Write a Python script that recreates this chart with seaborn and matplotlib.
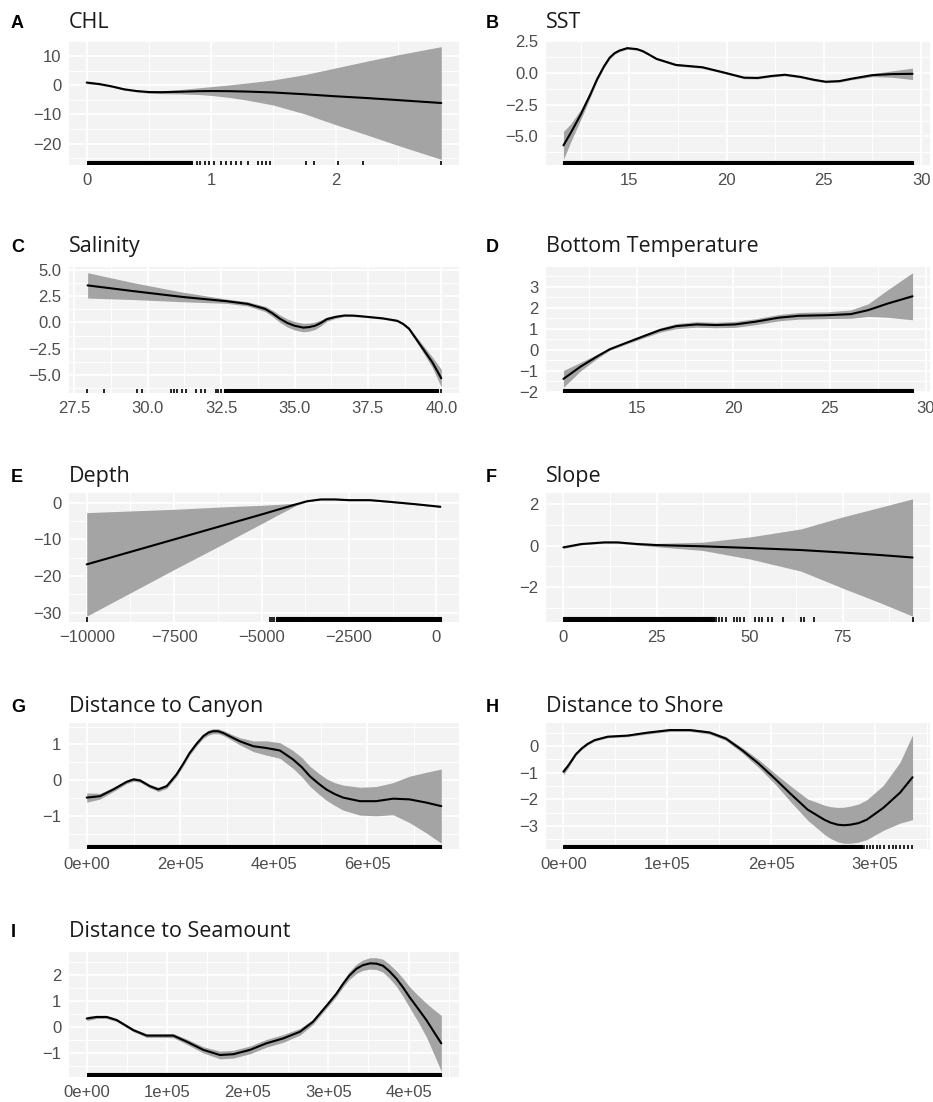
import numpy as np
import matplotlib
matplotlib.use("Agg")
import matplotlib.pyplot as plt
import seaborn as sns

sns.set_theme(style="white")
plt.rcParams["font.family"] = ["Liberation Sans", "DejaVu Sans"]
plt.rcParams["axes.unicode_minus"] = True

# ---------------- smooth terms: fit and confidence half-width ----------------
chl_x = [0, 0.1, 0.2, 0.3, 0.4, 0.5, 0.6, 0.75, 0.9, 1.0, 1.15, 1.3, 1.5, 1.75, 2.0, 2.25, 2.5, 2.85]
chl_fit = [0.9, 0.4, -0.4, -1.4, -2.0, -2.35, -2.4, -2.25, -2.05, -2.0, -2.05, -2.2, -2.5, -3.1, -3.8, -4.4, -5.1, -6.1]
chl_ci = [0.4, 0.3, 0.3, 0.3, 0.3, 0.4, 0.5, 0.75, 1.15, 1.5, 2.15, 3.0, 4.3, 6.7, 9.7, 12.6, 15.5, 19.3]
chl_rug_span = [(0.0, 0.85)]
chl_rug = [0.89, 0.91, 0.95, 0.98, 1.02, 1.08, 1.12, 1.16, 1.20, 1.24, 1.30, 1.38, 1.41, 1.44, 1.47,
           1.76, 1.83, 2.02, 2.22, 2.85]

sst_x = [11.62, 12.0, 12.5, 13.0, 13.35, 13.7, 14.0, 14.25, 14.5, 14.9, 15.4, 15.7, 16.0, 16.4,
         17.4, 18.75, 19.8, 20.9, 21.6, 22.3, 23.0, 23.8, 24.5, 25.1, 25.8, 26.4, 27.5, 28.5, 29.56]
sst_fit = [-5.7, -4.7, -3.3, -1.7, -0.5, 0.5, 1.2, 1.55, 1.75, 1.94, 1.86, 1.7, 1.45, 1.1,
           0.62, 0.44, 0.05, -0.38, -0.4, -0.25, -0.15, -0.32, -0.55, -0.7, -0.65, -0.47, -0.18, -0.1, -0.08]
sst_ci = [1.1, 0.7, 0.4, 0.22, 0.15, 0.12, 0.1, 0.09, 0.08, 0.08, 0.08, 0.08, 0.08, 0.08,
          0.08, 0.08, 0.08, 0.08, 0.08, 0.08, 0.08, 0.08, 0.08, 0.08, 0.08, 0.08, 0.12, 0.25, 0.45]
sst_rug_span = [(11.62, 29.56)]
sst_rug = []

sal_x = [27.95, 29.5, 31.2, 32.7, 33.4, 34.0, 34.25, 34.5, 34.75, 35.0, 35.3, 35.5, 35.7, 35.9,
         36.1, 36.4, 36.7, 37.0, 37.3, 38.0, 38.5, 38.7, 38.9, 39.3, 39.7, 40.0]
sal_fit = [3.5, 2.96, 2.4, 2.0, 1.75, 1.27, 0.85, 0.35, -0.05, -0.32, -0.5, -0.45, -0.32, -0.05,
           0.3, 0.52, 0.65, 0.64, 0.57, 0.38, 0.15, -0.15, -0.6, -2.2, -3.8, -5.3]
sal_ci = [1.2, 0.8, 0.45, 0.2, 0.2, 0.25, 0.3, 0.35, 0.38, 0.4, 0.4, 0.38, 0.35, 0.28,
          0.2, 0.14, 0.1, 0.09, 0.08, 0.08, 0.1, 0.12, 0.15, 0.3, 0.5, 0.85]
sal_rug_span = [(32.6, 39.9)]
sal_rug = [27.92, 28.52, 29.63, 29.8, 30.78, 30.9, 31.0, 31.18, 31.3, 31.63, 31.8, 31.94, 32.32,
           32.4, 32.49, 40.0]

bt_x = [11.2, 12.1, 12.95, 13.6, 14.5, 15.3, 16.2, 17.05, 18.1, 19.1, 20.1, 21.15, 22.35, 23.4,
        24.9, 26.1, 27.0, 28.0, 29.3]
bt_fit = [-1.38, -0.79, -0.31, 0.03, 0.35, 0.63, 0.94, 1.13, 1.21, 1.18, 1.21, 1.34, 1.53, 1.62,
          1.65, 1.70, 1.89, 2.2, 2.55]
bt_ci = [0.4, 0.2, 0.1, 0.05, 0.06, 0.08, 0.1, 0.12, 0.13, 0.13, 0.14, 0.14, 0.15, 0.16,
         0.16, 0.2, 0.3, 0.65, 1.12]
bt_rug_span = [(11.2, 29.3)]
bt_rug = []

dep_x = [-10000, -7500, -6250, -5000, -4500, -4000, -3700, -3300, -2900, -2500, -1900, -1400, -600, 114]
dep_fit = [-16.8, -10.0, -6.6, -3.2, -1.8, -0.4, 0.4, 0.9, 0.9, 0.7, 0.7, 0.3, -0.4, -1.1]
dep_ci = [14.1, 8.2, 5.4, 2.5, 1.35, 0.3, 0.15, 0.15, 0.15, 0.15, 0.15, 0.15, 0.15, 0.2]
dep_rug_span = [(-4600, 140)]
dep_rug = [-10000, -4750, -4700, -4650]

slp_x = [0, 4.8, 11, 14.5, 19.8, 25, 37.4, 50, 63.8, 75, 85, 93.75]
slp_fit = [-0.08, 0.08, 0.16, 0.16, 0.08, 0.03, -0.03, -0.11, -0.21, -0.33, -0.45, -0.57]
slp_ci = [0.05, 0.04, 0.04, 0.04, 0.05, 0.08, 0.2, 0.53, 1.02, 1.72, 2.3, 2.83]
slp_rug_span = [(0.0, 40.5)]
slp_rug = [40.9, 41.8, 42.7, 43.6, 45.8, 46.7, 47.5, 48.4, 51.5, 52.4, 53.3, 55.0, 55.9, 59.0,
           63.8, 64.7, 67.3, 93.75]

can_x = [0, 28500, 57000, 85000, 100000, 114000, 135000, 153000, 171000, 192000,
         206000, 220000, 235000, 249000, 260000, 270000, 281000, 292000, 310000, 327000,
         356000, 384000, 413000, 441000, 460000, 477000, 495000, 512000, 530000, 548000,
         584000, 619000, 655000, 690000, 726000, 758000]
can_fit = [-0.49, -0.45, -0.26, -0.05, 0.02, -0.01, -0.17, -0.26, -0.17, 0.16,
           0.45, 0.76, 1.02, 1.23, 1.33, 1.37, 1.37, 1.32, 1.2, 1.09,
           0.95, 0.9, 0.83, 0.58, 0.36, 0.11, -0.09, -0.26, -0.39, -0.49,
           -0.59, -0.59, -0.52, -0.54, -0.63, -0.73]
can_ci = [0.13, 0.08, 0.06, 0.05, 0.05, 0.05, 0.05, 0.06, 0.06, 0.06,
          0.06, 0.06, 0.06, 0.06, 0.07, 0.07, 0.07, 0.07, 0.08, 0.1,
          0.15, 0.2, 0.22, 0.25, 0.27, 0.28, 0.29, 0.3, 0.32, 0.35,
          0.39, 0.41, 0.45, 0.65, 0.85, 1.04]
can_rug_span = [(0, 758000)]
can_rug = []

sho_x = [0, 3900, 7900, 12000, 17400, 23000, 30000, 42600, 61600, 80500,
         102600, 121600, 140500, 156300, 172000, 188000, 204000, 219000, 235000, 251000,
         257000, 264000, 270000, 276000, 284000, 292000, 308000, 324000, 336000]
sho_fit = [-0.96, -0.77, -0.54, -0.3, -0.09, 0.08, 0.23, 0.36, 0.40, 0.51,
           0.61, 0.61, 0.52, 0.29, -0.15, -0.66, -1.24, -1.81, -2.39, -2.77,
           -2.88, -2.96, -2.98, -2.96, -2.9, -2.77, -2.32, -1.75, -1.17]
sho_ci = [0.12, 0.09, 0.06, 0.05, 0.04, 0.04, 0.04, 0.04, 0.04, 0.05,
          0.05, 0.05, 0.06, 0.07, 0.1, 0.15, 0.2, 0.3, 0.4, 0.55,
          0.6, 0.65, 0.68, 0.7, 0.72, 0.75, 0.85, 1.15, 1.6]
sho_rug_span = [(0, 287000)]
sho_rug = [289000, 292000, 295000, 298000, 302000, 305000, 309000, 313000, 317000, 320000,
           324000, 328000, 332000, 335000]

sea_x = [0, 12400, 24800, 37200, 58000, 74500, 91000, 107500, 124000, 144800,
         165500, 182000, 203000, 223000, 244000, 265000, 281000, 300000, 310000, 318500,
         326000, 335000, 343000, 352000, 360000, 368000, 376000, 385000, 393000, 401000,
         411000, 422000, 431000, 440500]
sea_fit = [0.32, 0.38, 0.38, 0.26, -0.13, -0.34, -0.34, -0.34, -0.57, -0.89,
           -1.09, -1.06, -0.89, -0.64, -0.45, -0.19, 0.19, 0.89, 1.27, 1.66,
           1.97, 2.24, 2.38, 2.45, 2.44, 2.36, 2.15, 1.85, 1.52, 1.15,
           0.73, 0.26, -0.18, -0.64]
sea_ci = [0.08, 0.06, 0.06, 0.06, 0.06, 0.07, 0.07, 0.08, 0.1, 0.12,
          0.15, 0.15, 0.15, 0.15, 0.15, 0.13, 0.1, 0.1, 0.11, 0.12,
          0.15, 0.18, 0.2, 0.22, 0.23, 0.25, 0.27, 0.3, 0.35, 0.4,
          0.5, 0.65, 0.85, 1.08]
sea_rug_span = [(0, 440500)]
sea_rug = []

# ---------------- axis breaks and labels ----------------
chl_xt, chl_xl = [0, 1, 2], ["0", "1", "2"]
chl_yt, chl_yl = [-20, -10, 0, 10], ["\u221220", "\u221210", "0", "10"]
sst_xt, sst_xl = [15, 20, 25, 30], ["15", "20", "25", "30"]
sst_yt, sst_yl = [-5, -2.5, 0, 2.5], ["\u22125.0", "\u22122.5", "0.0", "2.5"]
sal_xt, sal_xl = [27.5, 30, 32.5, 35, 37.5, 40], ["27.5", "30.0", "32.5", "35.0", "37.5", "40.0"]
sal_yt, sal_yl = [-5, -2.5, 0, 2.5, 5], ["\u22125.0", "\u22122.5", "0.0", "2.5", "5.0"]
bt_xt, bt_xl = [15, 20, 25, 30], ["15", "20", "25", "30"]
bt_yt, bt_yl = [-2, -1, 0, 1, 2, 3], ["\u22122", "\u22121", "0", "1", "2", "3"]
dep_xt, dep_xl = [-10000, -7500, -5000, -2500, 0], ["\u221210000", "\u22127500", "\u22125000", "\u22122500", "0"]
dep_yt, dep_yl = [-30, -20, -10, 0], ["\u221230", "\u221220", "\u221210", "0"]
slp_xt, slp_xl = [0, 25, 50, 75], ["0", "25", "50", "75"]
slp_yt, slp_yl = [-2, 0, 2], ["\u22122", "0", "2"]
can_xt, can_xl = [0, 200000, 400000, 600000], ["0e+00", "2e+05", "4e+05", "6e+05"]
can_yt, can_yl = [-1, 0, 1], ["\u22121", "0", "1"]
sho_xt, sho_xl = [0, 100000, 200000, 300000], ["0e+00", "1e+05", "2e+05", "3e+05"]
sho_yt, sho_yl = [-3, -2, -1, 0], ["\u22123", "\u22122", "\u22121", "0"]
sea_xt, sea_xl = [0, 100000, 200000, 300000, 400000], ["0e+00", "1e+05", "2e+05", "3e+05", "4e+05"]
sea_yt, sea_yl = [-1, 0, 1, 2], ["\u22121", "0", "1", "2"]

panel_letters = ["A", "B", "C", "D", "E", "F", "G", "H", "I"]
panel_titles = ["CHL", "SST", "Salinity", "Bottom Temperature", "Depth", "Slope",
                "Distance to Canyon", "Distance to Shore", "Distance to Seamount"]

terms = [
    (chl_x, chl_fit, chl_ci, chl_rug_span, chl_rug, chl_xt, chl_xl, chl_yt, chl_yl),
    (sst_x, sst_fit, sst_ci, sst_rug_span, sst_rug, sst_xt, sst_xl, sst_yt, sst_yl),
    (sal_x, sal_fit, sal_ci, sal_rug_span, sal_rug, sal_xt, sal_xl, sal_yt, sal_yl),
    (bt_x, bt_fit, bt_ci, bt_rug_span, bt_rug, bt_xt, bt_xl, bt_yt, bt_yl),
    (dep_x, dep_fit, dep_ci, dep_rug_span, dep_rug, dep_xt, dep_xl, dep_yt, dep_yl),
    (slp_x, slp_fit, slp_ci, slp_rug_span, slp_rug, slp_xt, slp_xl, slp_yt, slp_yl),
    (can_x, can_fit, can_ci, can_rug_span, can_rug, can_xt, can_xl, can_yt, can_yl),
    (sho_x, sho_fit, sho_ci, sho_rug_span, sho_rug, sho_xt, sho_xl, sho_yt, sho_yl),
    (sea_x, sea_fit, sea_ci, sea_rug_span, sea_rug, sea_xt, sea_xl, sea_yt, sea_yl),
]

# ---------------- layout (pixels of a 933 x 1102 canvas) ----------------
W, H = 933, 1102
col_x = [(69, 459), (546, 930)]
row_y = [(41, 165), (267, 393), (493, 622), (723, 849), (952, 1077)]
title_base = [28, 252, 482, 712, 937]
letter_x = [11, 486]
title_x = [69, 546]

PANEL_BG = "#F3F3F3"
RIBBON = "#A4A4A4"
TICK_TXT = "#4D4D4D"


def expand(lo, hi, frac=0.05):
    pad = (hi - lo) * frac
    return lo - pad, hi + pad


def minor_breaks(major, lim):
    step = major[1] - major[0]
    mids = [m + step / 2 for m in [major[0] - step] + list(major)]
    return [m for m in mids if lim[0] <= m <= lim[1]]


fig = plt.figure(figsize=(W / 100, H / 100), dpi=100)

for i, (x, fit, ci, spans, rug, xt, xl, yt, yl) in enumerate(terms):
    r, c = divmod(i, 2)
    x0, x1 = col_x[c]
    y0, y1 = row_y[r]
    ax = fig.add_axes([x0 / W, 1 - y1 / H, (x1 - x0) / W, (y1 - y0) / H])
    ax.set_facecolor(PANEL_BG)
    for s in ax.spines.values():
        s.set_visible(False)

    x = np.asarray(x, dtype=float)
    fit = np.asarray(fit, dtype=float)
    ci = np.asarray(ci, dtype=float)
    upper, lower = fit + ci, fit - ci

    all_x = list(x) + [v for sp in spans for v in sp] + list(rug)
    xlim = expand(min(all_x), max(all_x))
    ylim = expand(lower.min(), upper.max())

    ax.fill_between(x, lower, upper, color=RIBBON, lw=0, zorder=2)
    sns.lineplot(x=x, y=fit, ax=ax, color="black", linewidth=1.5, errorbar=None, zorder=3)

    # rug of observed covariate values
    for a, b in spans:
        ax.axvspan(a, b, ymin=0, ymax=0.035, color="black", lw=0.8, zorder=4)
    if rug:
        sns.rugplot(x=rug, ax=ax, height=0.035, color="black", linewidth=1.2,
                    expand_margins=False, zorder=4)

    ax.set_xlim(*xlim)
    ax.set_ylim(*ylim)
    ax.set_xticks(xt)
    ax.set_xticklabels(xl)
    ax.set_yticks(yt)
    ax.set_yticklabels(yl)
    ax.set_xticks(minor_breaks(xt, xlim), minor=True)
    ax.set_yticks(minor_breaks(yt, ylim), minor=True)
    ax.grid(which="major", color="white", linewidth=1.3, zorder=0)
    ax.grid(which="minor", color="white", linewidth=0.7, zorder=0)
    ax.set_axisbelow(True)
    ax.tick_params(which="major", length=3.5, width=1.0, color="#333333",
                   labelsize=12, labelcolor=TICK_TXT, pad=2)
    ax.tick_params(which="minor", length=0)
    ax.set_xlabel("")
    ax.set_ylabel("")

    fig.text(letter_x[c] / W, 1 - title_base[r] / H, panel_letters[i],
             fontsize=13, fontweight="bold", color="black", va="baseline", ha="left",
             family=["Liberation Sans", "DejaVu Sans"])
    fig.text(title_x[c] / W, 1 - title_base[r] / H, panel_titles[i],
             fontsize=15.5, color="#1A1A1A", va="baseline", ha="left",
             family=["Open Sans", "DejaVu Sans"])

fig.savefig("out.png", dpi=100, facecolor="white")
